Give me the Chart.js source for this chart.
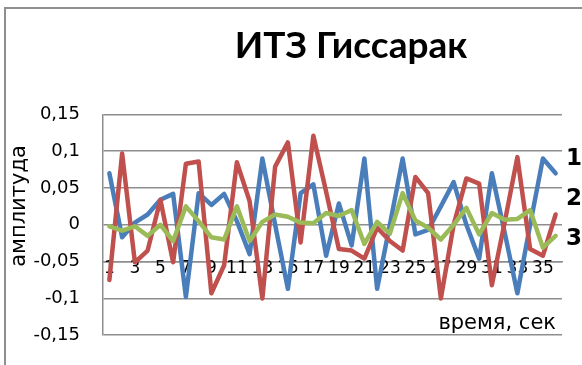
<!DOCTYPE html>
<html>
<head>
<meta charset="utf-8">
<title>ИТЗ Гиссарак</title>
<script src="https://cdn.jsdelivr.net/npm/chart.js@4/dist/chart.umd.min.js"></script>
<style>
html, body { margin: 0; padding: 0; overflow: hidden; background: #fff; }
#frame {
    position: absolute; left: 4px; top: 7px;
    width: 690px; height: 360px;
    border: 2px solid #8f8f8f;
}
</style>
</head>
<body>
<div id="frame"><canvas id="seismoChart" width="690" height="360"></canvas></div>
<script>
// seconds 1..36
let seconds = [];
for (let i = 1; i <= 36; i++) seconds.push(String(i));

let series1 = [0.070, -0.017, 0.003, 0.014, 0.034, 0.042, -0.098, 0.043, 0.027, 0.042,
               0.005, -0.040, 0.090, 0.000, -0.087, 0.043, 0.055, -0.042, 0.029, -0.028,
               0.090, -0.087, 0.000, 0.090, -0.013, -0.007, 0.025, 0.058, 0.000, -0.046,
               0.070, -0.010, -0.093, 0.000, 0.090, 0.070];
let series2 = [-0.075, 0.097, -0.051, -0.035, 0.034, -0.051, 0.083, 0.086, -0.093, -0.055,
               0.085, 0.032, -0.100, 0.079, 0.112, -0.024, 0.121, 0.045, -0.033, -0.035,
               -0.046, -0.004, -0.022, -0.035, 0.065, 0.043, -0.100, 0.000, 0.063, 0.056,
               -0.082, 0.003, 0.092, -0.033, -0.042, 0.014];
let series3 = [-0.002, -0.008, -0.002, -0.015, 0.000, -0.022, 0.025, 0.005, -0.017, -0.020,
               0.025, -0.022, 0.004, 0.014, 0.011, 0.003, 0.002, 0.016, 0.012, 0.020,
               -0.026, 0.004, -0.012, 0.043, 0.006, -0.004, -0.020, 0.000, 0.023, -0.013,
               0.016, 0.007, 0.008, 0.020, -0.031, -0.015];

let seriesNames = ['1', '2', '3'];
let seriesColors = ['#4a7ebb', '#c0504d', '#9bbb59'];

let yTicks = [-0.15, -0.1, -0.05, 0, 0.05, 0.1, 0.15];

const gridGray = '#8e8e8e';

function commaNumber(v) {
    return String(parseFloat(v.toFixed(2))).replace('.', ',');
}

function makeDataset(idx, values) {
    return {
        label: seriesNames[idx],
        data: values,
        borderColor: seriesColors[idx],
        backgroundColor: seriesColors[idx],
        borderWidth: 4.5,
        borderJoinStyle: 'round',
        borderCapStyle: 'round',
        pointRadius: 0,
        tension: 0,
        order: 3 - idx
    };
}

// axis titles and the 1/2/3 series tags at the right
const sideTexts = {
    id: 'sideTexts',
    afterDraw(chart) {
        const ctx = chart.ctx;
        const area = chart.chartArea;
        ctx.save();
        ctx.fillStyle = '#000';

        ctx.font = '21px "DejaVu Sans"';
        ctx.textAlign = 'right';
        ctx.textBaseline = 'middle';
        ctx.fillText('время, сек', area.right - 6, area.bottom - 12);

        ctx.translate(14, 197);
        ctx.rotate(-Math.PI / 2);
        ctx.textAlign = 'center';
        ctx.fillText('амплитуда', 0, 0);
        ctx.restore();

        ctx.save();
        ctx.font = 'bold 23px "DejaVu Sans"';
        ctx.fillStyle = '#000';
        ctx.textAlign = 'left';
        ctx.textBaseline = 'middle';
        chart.data.datasets.forEach(function(ds, i) {
            ctx.fillText(ds.label, area.right + 4, area.top + 45 + i * 40);
        });
        ctx.restore();
    }
};

new Chart(document.getElementById('seismoChart'), {
    type: 'line',
    data: {
        labels: seconds,
        datasets: [makeDataset(0, series1), makeDataset(1, series2), makeDataset(2, series3)]
    },
    options: {
        responsive: false,
        animation: false,
        layout: { padding: { top: 0, left: 0, right: 0, bottom: 31 } },
        plugins: {
            legend: { display: false },
            tooltip: { enabled: false },
            title: {
                display: true,
                text: 'ИТЗ Гиссарак',
                color: '#000',
                font: { family: 'Lato', size: 37, weight: 'bold' },
                padding: { top: 15, bottom: 46 }
            }
        },
        scales: {
            x: {
                position: { y: -0.05 },
                offset: true,
                grid: { display: false, drawTicks: false },
                border: { display: true, color: gridGray, width: 1.5 },
                ticks: {
                    autoSkip: false,
                    maxRotation: 0,
                    minRotation: 0,
                    padding: -3,
                    color: '#000',
                    font: { family: 'DejaVu Sans', size: 17 },
                    callback: function(val, index) {
                        return index % 2 === 0 ? this.getLabelForValue(val) : '';
                    }
                }
            },
            y: {
                min: -0.15,
                max: 0.15,
                afterFit: function(scale) { scale.width = 97; },
                afterBuildTicks: function(scale) {
                    scale.ticks = yTicks.map(function(v) { return { value: v }; });
                },
                grid: { color: gridGray, lineWidth: 1.5, drawTicks: false },
                border: { display: true, color: gridGray, width: 1.5 },
                ticks: {
                    padding: 23,
                    color: '#000',
                    font: { family: 'DejaVu Sans', size: 18 },
                    callback: function(v) { return commaNumber(v); }
                }
            },
            // empty strip on the right for the series tags
            side: {
                position: 'right',
                afterFit: function(scale) { scale.width = 134; },
                grid: { display: false },
                border: { display: false },
                ticks: { display: false }
            }
        }
    },
    plugins: [sideTexts]
});
</script>
</body>
</html>
